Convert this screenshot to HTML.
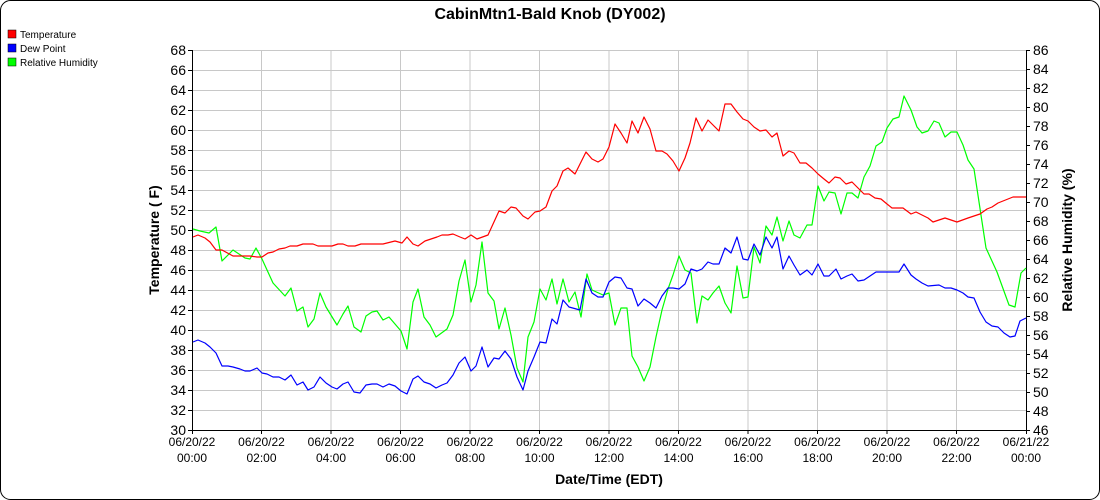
<!DOCTYPE html>
<html><head><meta charset="utf-8"><style>
html,body{margin:0;padding:0;background:#fff;}
svg{display:block;font-family:"Liberation Sans",sans-serif;}
</style></head><body>
<svg width="1100" height="500" viewBox="0 0 1100 500">
<rect x="0.5" y="0.5" width="1099" height="499" rx="10" fill="#fff" stroke="#000"/>
<text x="550" y="19" text-anchor="middle" font-size="16" font-weight="bold">CabinMtn1-Bald Knob (DY002)</text>
<rect x="8" y="30" width="8" height="8" fill="#f00" stroke="#000" stroke-width="0.5"/>
<text x="20" y="38" font-size="10">Temperature</text>
<rect x="8" y="44" width="8" height="8" fill="#00f" stroke="#000" stroke-width="0.5"/>
<text x="20" y="52" font-size="10">Dew Point</text>
<rect x="8" y="58" width="8" height="8" fill="#0f0" stroke="#000" stroke-width="0.5"/>
<text x="20" y="66" font-size="10">Relative Humidity</text>
<g stroke="#c8c8c8" stroke-width="1" fill="none">
<path d="M192 50.5H1026M192 70.5H1026M192 90.5H1026M192 110.5H1026M192 130.5H1026M192 150.5H1026M192 170.5H1026M192 190.5H1026M192 210.5H1026M192 230.5H1026M192 250.5H1026M192 270.5H1026M192 290.5H1026M192 310.5H1026M192 330.5H1026M192 350.5H1026M192 370.5H1026M192 390.5H1026M192 410.5H1026"/>
<path d="M261.5 50V430M331 50V430M400.5 50V430M470 50V430M539.5 50V430M609 50V430M678.5 50V430M748 50V430M817.5 50V430M887 50V430M956.5 50V430"/>
</g>
<g stroke="#000" stroke-width="1" fill="none">
<path d="M192.5 50V430.5H1026.5V50"/>
<path d="M188 50.5h4M188 70.5h4M188 90.5h4M188 110.5h4M188 130.5h4M188 150.5h4M188 170.5h4M188 190.5h4M188 210.5h4M188 230.5h4M188 250.5h4M188 270.5h4M188 290.5h4M188 310.5h4M188 330.5h4M188 350.5h4M188 370.5h4M188 390.5h4M188 410.5h4M188 430.5h4"/>
<path d="M1026 50.5h4M1026 69.5h4M1026 88.5h4M1026 107.5h4M1026 126.5h4M1026 145.5h4M1026 164.5h4M1026 183.5h4M1026 202.5h4M1026 221.5h4M1026 240.5h4M1026 259.5h4M1026 278.5h4M1026 297.5h4M1026 316.5h4M1026 335.5h4M1026 354.5h4M1026 373.5h4M1026 392.5h4M1026 411.5h4M1026 430.5h4"/>
<path d="M192.5 430v4M261.5 430v4M331 430v4M400.5 430v4M470 430v4M539.5 430v4M609 430v4M678.5 430v4M748 430v4M817.5 430v4M887 430v4M956.5 430v4M1026.5 430v4"/>
</g>
<g font-size="14" text-anchor="end">
<text x="186" y="55">68</text><text x="186" y="75">66</text><text x="186" y="95">64</text><text x="186" y="115">62</text><text x="186" y="135">60</text><text x="186" y="155">58</text><text x="186" y="175">56</text><text x="186" y="195">54</text><text x="186" y="215">52</text><text x="186" y="235">50</text><text x="186" y="255">48</text><text x="186" y="275">46</text><text x="186" y="295">44</text><text x="186" y="315">42</text><text x="186" y="335">40</text><text x="186" y="355">38</text><text x="186" y="375">36</text><text x="186" y="395">34</text><text x="186" y="415">32</text><text x="186" y="435">30</text>
</g>
<g font-size="14">
<text x="1033" y="55">86</text><text x="1033" y="74">84</text><text x="1033" y="93">82</text><text x="1033" y="112">80</text><text x="1033" y="131">78</text><text x="1033" y="150">76</text><text x="1033" y="169">74</text><text x="1033" y="188">72</text><text x="1033" y="207">70</text><text x="1033" y="226">68</text><text x="1033" y="245">66</text><text x="1033" y="264">64</text><text x="1033" y="283">62</text><text x="1033" y="302">60</text><text x="1033" y="321">58</text><text x="1033" y="340">56</text><text x="1033" y="359">54</text><text x="1033" y="378">52</text><text x="1033" y="397">50</text><text x="1033" y="416">48</text><text x="1033" y="435">46</text>
</g>
<g font-size="12" text-anchor="middle">
<text x="192" y="446">06/20/22</text><text x="192" y="462">00:00</text>
<text x="261.5" y="446">06/20/22</text><text x="261.5" y="462">02:00</text>
<text x="331" y="446">06/20/22</text><text x="331" y="462">04:00</text>
<text x="400.5" y="446">06/20/22</text><text x="400.5" y="462">06:00</text>
<text x="470" y="446">06/20/22</text><text x="470" y="462">08:00</text>
<text x="539.5" y="446">06/20/22</text><text x="539.5" y="462">10:00</text>
<text x="609" y="446">06/20/22</text><text x="609" y="462">12:00</text>
<text x="678.5" y="446">06/20/22</text><text x="678.5" y="462">14:00</text>
<text x="748" y="446">06/20/22</text><text x="748" y="462">16:00</text>
<text x="817.5" y="446">06/20/22</text><text x="817.5" y="462">18:00</text>
<text x="887" y="446">06/20/22</text><text x="887" y="462">20:00</text>
<text x="956.5" y="446">06/20/22</text><text x="956.5" y="462">22:00</text>
<text x="1026" y="446">06/21/22</text><text x="1026" y="462">00:00</text>
</g>
<text x="609" y="484" text-anchor="middle" font-size="14" font-weight="bold">Date/Time (EDT)</text>
<text transform="translate(159,240) rotate(-90)" text-anchor="middle" font-size="14" font-weight="bold">Temperature ( F)</text>
<text transform="translate(1072,240) rotate(-90)" text-anchor="middle" font-size="14" font-weight="bold">Relative Humidity (%)</text>
<g fill="none" stroke-width="1.2" stroke-linejoin="round">
<polyline stroke="#00ff00" points="193,229 200,231 209,233 216,227 222,261 233,250 245,258 250,259 256,248 262,259 273,283 285,296 291,288 297,311 303,307 308,327 314,319 320,293 326,307 337,325 343,314 348,306 354,327 361,332 366,316 372,312 377,311 383,320 389,317 401,331 407,349 413,302 418,289 424,317 430,325 436,337 447,329 453,315 459,281 465,260 471,302 476,285 482,242 488,293 494,301 499,329 505,308 511,335 517,368 523,382 528,337 534,322 540,289 546,300 552,279 557,304 563,279 569,302 575,292 581,317 587,274 592,290 603,295 609,293 615,325 621,308 627,308 632,356 638,367 644,381 650,367 656,337 662,310 668,289 673,275 679,256 685,270 691,273 697,323 702,296 708,300 713,293 719,286 725,303 731,313 737,266 743,298 748,297 754,247 760,263 766,226 772,235 777,217 783,241 789,221 794,235 800,238 807,225 812,225 818,186 824,201 829,192 835,193 841,214 847,193 852,193 858,198 864,177 870,166 876,146 882,142 887,128 893,119 899,117 904,96 911,110 917,127 922,133 928,131 934,121 939,123 945,137 951,132 957,132 963,145 968,160 974,169 986,248 997,272 1009,305 1015,307 1021,273 1026,268"/>
<polyline stroke="#0000ff" points="193,342 198,340 205,343 210,347 216,353 222,366 228,366 233,367 240,369 245,371 250,371 257,368 262,373 267,374 273,377 279,377 285,380 291,375 297,385 303,382 308,390 314,387 320,377 326,383 332,387 337,389 343,384 348,382 354,392 360,393 366,385 372,384 377,384 383,387 389,384 395,386 401,391 407,394 413,379 418,376 424,382 430,384 436,388 442,385 447,383 453,375 459,363 465,357 471,371 476,366 482,347 488,367 494,358 499,359 505,351 511,359 517,377 523,390 528,371 534,357 540,342 546,343 552,319 557,324 563,300 569,307 580,310 586,279 592,293 598,297 603,297 609,282 615,277 621,278 627,288 632,289 638,306 644,299 650,303 656,308 662,296 668,288 673,288 679,289 685,284 691,269 697,271 702,269 708,262 713,264 719,264 725,248 731,253 737,237 743,259 748,260 754,244 760,255 766,237 772,248 777,237 783,269 789,256 794,265 800,275 807,270 812,275 818,264 824,276 829,276 836,269 841,279 847,276 852,274 858,281 864,280 876,272 899,272 904,264 911,275 916,279 922,283 928,286 939,285 945,288 951,288 957,290 963,293 968,297 974,298 980,312 986,322 992,326 998,327 1004,333 1010,337 1015,336 1020,321 1026,318"/>
<polyline stroke="#ff0000" points="193,237 198,235 205,238 210,242 216,250 222,250 233,256 250,256 257,257 262,257 268,253 273,252 279,249 285,248 290,246 297,246 303,244 313,244 318,246 332,246 338,244 343,244 348,246 355,246 361,244 383,244 395,241 402,243 407,237 413,244 418,246 425,241 437,237 442,235 448,235 453,234 460,237 465,239 471,235 477,239 488,235 499,211 505,213 511,207 516,208 523,216 528,219 535,212 540,211 546,207 552,191 557,186 563,171 568,168 575,174 586,152 592,159 598,162 603,159 609,147 615,124 621,133 627,143 632,121 638,133 644,117 650,129 656,151 662,151 667,154 673,161 679,171 685,158 690,143 696,118 702,131 708,120 713,125 719,131 725,104 731,104 737,112 743,119 748,121 754,127 760,131 766,130 772,137 777,133 783,156 789,151 794,153 800,163 806,163 812,168 818,174 824,179 829,183 835,177 840,178 846,184 852,182 858,188 864,194 869,194 875,198 881,199 887,204 892,208 903,208 911,214 916,212 922,215 928,218 933,222 945,218 957,222 968,218 980,214 987,209 992,207 998,203 1003,201 1013,197 1026,197"/>
</g>
</svg>
</body></html>
